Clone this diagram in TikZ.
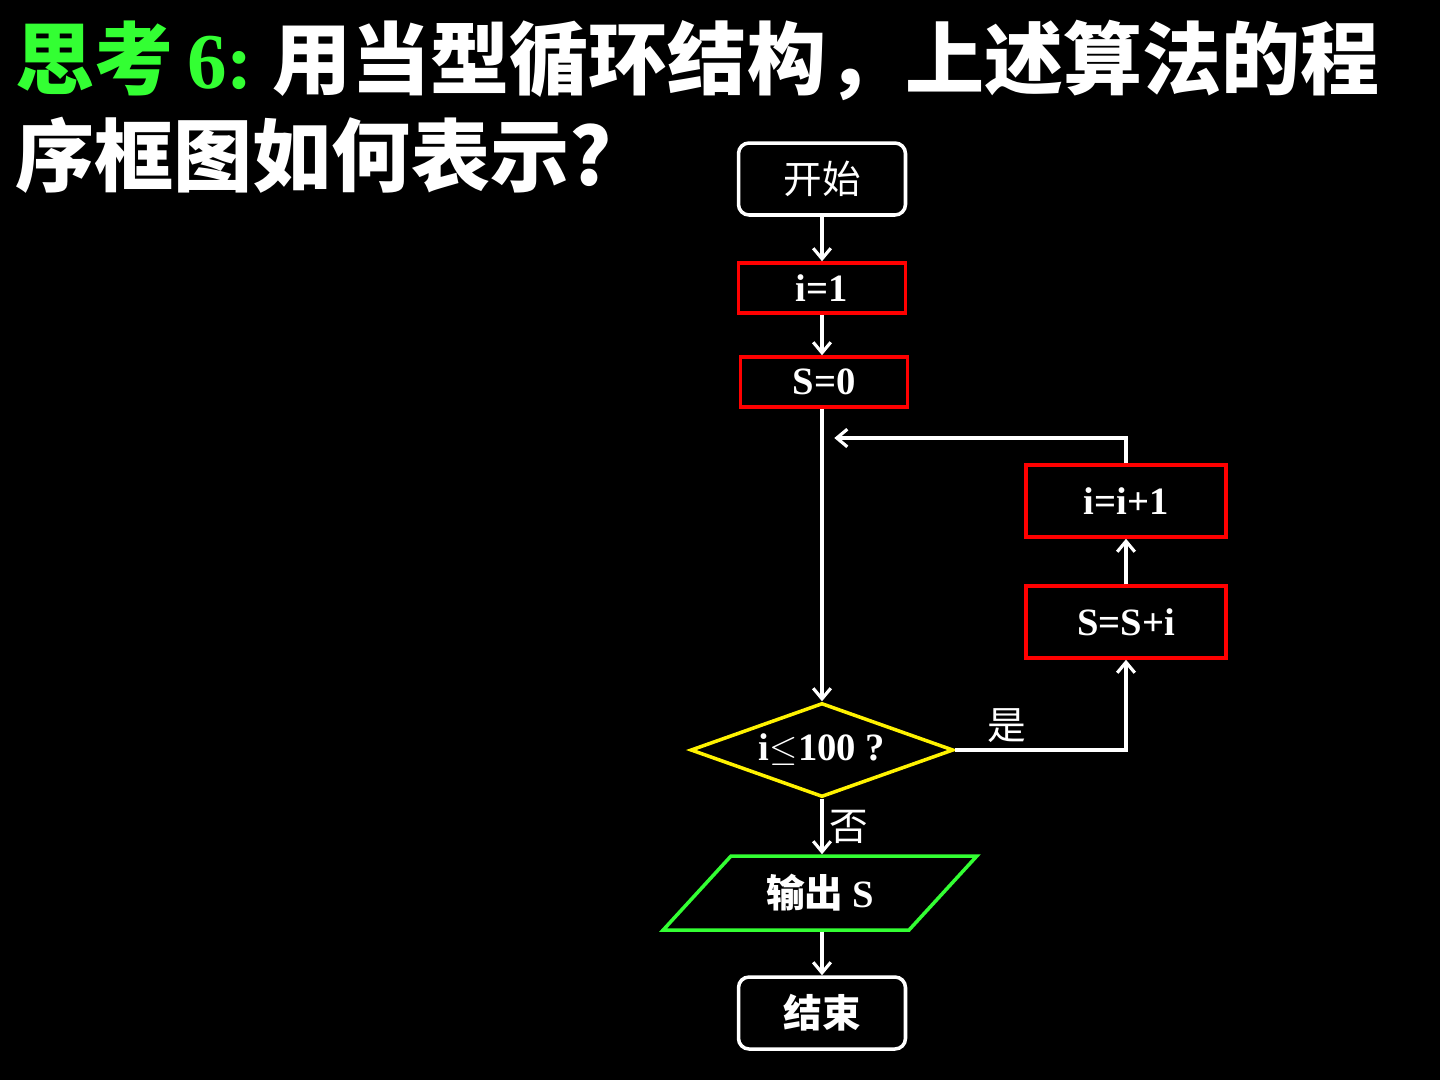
\documentclass[tikz,border=0pt]{standalone}
\usepackage{fontspec}
\setmainfont{Liberation Serif}
\newfontfamily\cjk{Noto Sans CJK SC}
\usetikzlibrary{shapes.geometric, arrows.meta}

\begin{document}
\begin{tikzpicture}[x=0.02cm, y=-0.02cm, >={Straight Barb[length=6pt,width=10pt]}, thick,
    box/.style={draw, line width=2pt, minimum width=3.34cm, text=white, font=\fontsize{22}{24}\selectfont\bfseries},
    term/.style={box, draw=white, rounded corners=6pt, minimum height=1.44cm},
    proc/.style={box, draw=red, minimum height=1cm},
    flow/.style={->, draw=white, line width=1.8pt}]
    \fill[black] (0,0) rectangle (1440,1080);
    \useasboundingbox (0,0) rectangle (1440,1080);

    % Title
    \node[anchor=west, inner sep=0pt, font=\fontsize{45}{50}\selectfont] (t1) at (15,60)
        {\textcolor{green!80!white}{\cjk\bfseries 思考\,}\textcolor{green!80!white}{\bfseries 6:}\ \textcolor{white}{\cjk\bfseries 用当型循环结构，上述算法的程}};
    \node[anchor=west, inner sep=0pt, font=\fontsize{45}{50}\selectfont, text=white] (t2) at (15,155)
        {\cjk\bfseries 序框图如何表示?};

    % Flow chart
    \node[term] (start) at (822,179) {\cjk\mdseries 开始};
    \node[proc] (i1) at (822,288) {i=1};
    \node[proc] (s0) at (824,382) {S=0};
    \node[draw=yellow, line width=2pt, diamond, aspect=2.8, inner sep=1pt, minimum width=5.26cm, minimum height=1.88cm,
        text=white, font=\fontsize{22}{24}\selectfont\bfseries] (cond) at (822,750) {i$\leq$100 ?};
    \node[proc, minimum width=4cm, minimum height=1.44cm] (ssi) at (1126,622) {S=S+i};
    \node[proc, minimum width=4cm, minimum height=1.44cm] (inc) at (1126,501) {i=i+1};
    \node[draw=green!80!white, line width=2pt, trapezium, trapezium left angle=47, trapezium right angle=133,
        trapezium stretches=true, minimum width=6.28cm, minimum height=1.48cm,
        text=white, font=\fontsize{22}{24}\selectfont\bfseries] (out) at (820,893) {\cjk 输出\ \rmfamily\bfseries S};
    \node[term] (stop) at (822,1013) {\cjk 结束};
    \coordinate (loop) at (822,438);

    \draw[flow] (start) -- (i1);
    \draw[flow] (i1) -- (i1 |- s0.north);
    \draw[flow] (s0.south -| cond.north) -- (cond.north);
    \draw[flow] (cond.east) -| node[pos=0.15, above, text=white, font=\fontsize{22}{24}\selectfont\cjk] {是} (ssi.south);
    \draw[flow] (ssi) -- (inc);
    \draw[flow] (inc.north) |- ([xshift=7]loop);
    \draw[flow] (cond.south) -- node[right, text=white, font=\fontsize{22}{24}\selectfont\cjk] {否} (out.north -| cond.south);
    \draw[flow] (out.south -| stop.north) -- (stop);
\end{tikzpicture}
\end{document}
